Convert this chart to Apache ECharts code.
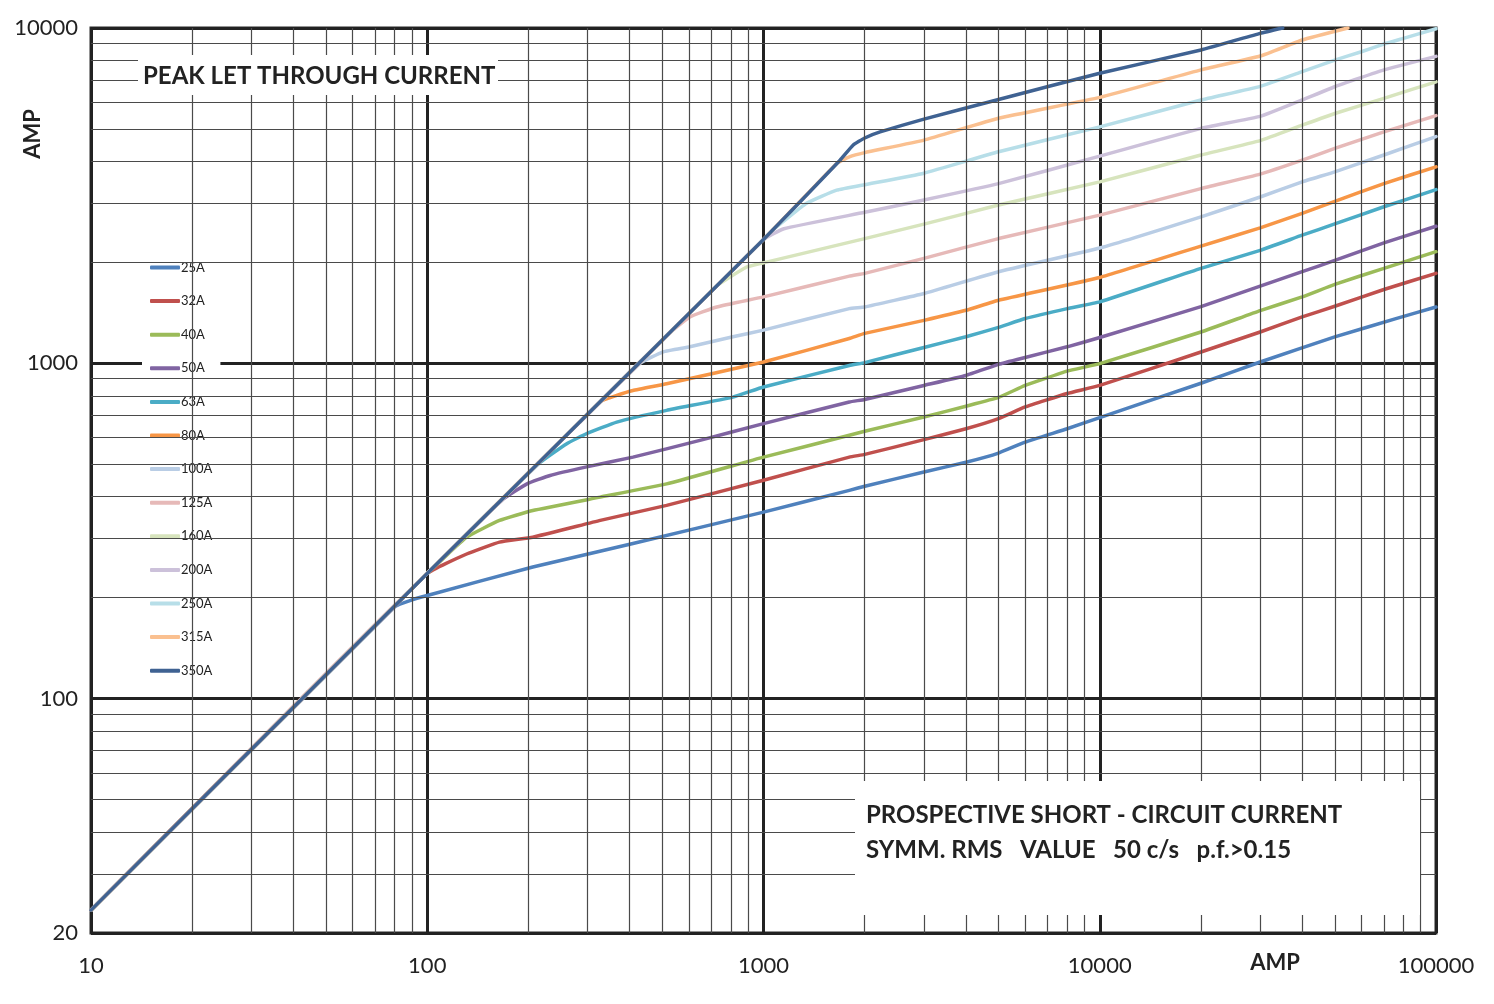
<!DOCTYPE html>
<html>
<head>
<meta charset="utf-8">
<title>Peak let through current</title>
<script src="https://cdn.jsdelivr.net/npm/echarts@6/dist/echarts.min.js"></script>
<style>
  html, body { margin: 0; padding: 0; background: #fff; }
  #chart { width: 1494px; height: 1004px; }
</style>
</head>
<body>
<div id="chart"></div>
<script>
// fuse ratings and their cut-off curves, [prospective A, peak A]
var ratings = ['25A', '32A', '40A', '50A', '63A', '80A', '100A', '125A', '160A', '200A', '250A', '315A', '350A'];

var c25 = [[10,23.4],[80,188],[90,197],[100,203],[206,247],[409,290],[1000,360],[1800,418],[2000,430],[3000,474],[4000,507],[5000,540],[6000,582],[8000,638],[10000,689],[20000,872],[30000,1009],[50000,1199],[76000,1359],[100000,1472]];
var c32 = [[10,23.4],[100,236],[131,270],[164,293],[206,303],[327,340],[515,377],[1000,448],[1800,525],[2000,535],[3000,592],[4000,638],[5000,684],[6000,741],[8000,813],[10000,859],[20000,1081],[30000,1240],[40000,1375],[50000,1480],[70000,1660],[100000,1855]];
var c40 = [[10,23.4],[100,236],[131,303],[164,340],[206,364],[327,399],[515,437],[1000,525],[1800,610],[2000,627],[3000,692],[4000,745],[5000,791],[6000,859],[8000,948],[10000,998],[20000,1240],[30000,1436],[40000,1578],[50000,1720],[70000,1920],[100000,2152]];
var c50 = [[10,23.4],[100,236],[168,393],[198,437],[232,463],[298,491],[409,525],[647,589],[1000,661],[1800,767],[2000,780],[3000,859],[4000,920],[5000,993],[6000,1041],[8000,1120],[10000,1194],[20000,1476],[30000,1700],[40000,1876],[50000,2028],[70000,2287],[100000,2563]];
var c63 = [[10,23.4],[100,236],[216,505],[260,576],[298,617],[366,668],[515,724],[811,793],[1000,850],[1800,985],[2000,1005],[3000,1115],[4000,1200],[5000,1280],[6000,1360],[8000,1456],[10000,1525],[20000,1920],[30000,2172],[40000,2410],[50000,2605],[70000,2930],[100000,3296]];
var c80 = [[10,23.4],[100,236],[327,768],[366,802],[409,830],[515,869],[1000,1009],[1800,1186],[2000,1228],[3000,1343],[4000,1439],[5000,1542],[10000,1803],[20000,2237],[30000,2535],[40000,2800],[50000,3040],[70000,3435],[100000,3855]];
var c100 = [[10,23.4],[100,236],[430,1000],[503,1082],[604,1120],[811,1200],[1000,1256],[1800,1456],[2000,1472],[3000,1615],[5000,1876],[10000,2208],[20000,2735],[30000,3133],[40000,3477],[50000,3725],[70000,4180],[100000,4745]];
var c125 = [[10,23.4],[100,236],[538,1256],[604,1375],[726,1472],[1000,1578],[1800,1820],[2000,1855],[3000,2056],[5000,2355],[10000,2766],[20000,3320],[30000,3665],[40000,4035],[50000,4375],[70000,4900],[100000,5480]];
var c160 = [[10,23.4],[100,236],[720,1690],[891,1937],[1020,2004],[2000,2355],[3000,2600],[5000,2965],[10000,3477],[20000,4180],[30000,4615],[40000,5130],[50000,5560],[70000,6170],[100000,6910]];
var c200 = [[10,23.4],[100,236],[1000,2340],[1150,2520],[2000,2820],[3000,3070],[5000,3435],[10000,4150],[20000,5020],[30000,5450],[40000,6100],[50000,6680],[70000,7500],[100000,8230]];
var c250 = [[10,23.4],[100,236],[1000,2340],[1067,2500],[1343,3000],[1651,3283],[2000,3410],[3000,3690],[5000,4276],[10000,5070],[20000,6100],[30000,6700],[40000,7410],[50000,8020],[60000,8495],[70000,8960],[80000,9315],[100000,9950]];
var c315 = [[10,23.4],[100,236],[1000,2340],[1651,3945],[1800,4130],[2000,4250],[3000,4630],[5000,5380],[10000,6210],[20000,7500],[30000,8250],[40000,9210],[54700,10000]];
var c350 = [[10,23.4],[100,236],[1000,2340],[1689,4035],[1849,4477],[2000,4700],[2222,4900],[3000,5350],[5000,6120],[10000,7330],[20000,8600],[30000,9640],[35000,10000]];

var curves = [c25, c32, c40, c50, c63, c80, c100, c125, c160, c200, c250, c315, c350];
var colors = ['#4F81BD', '#C0504D', '#9BBB59', '#8064A2', '#4BACC6', '#F79646', '#B9CDE5',
              '#E6B9B8', '#D7E4BD', '#CCC1DA', '#B7DEE8', '#FAC090', '#3F6292'];

// minor grid positions (2..9 in every decade)
var xDecades = [10, 100, 1000, 10000];
var yDecades = [10, 100, 1000];
var xMinor = [], yMinor = [];
xDecades.forEach(function (d) { for (var k = 2; k <= 9; k++) xMinor.push(k * d); });
yDecades.forEach(function (d) { for (var k = 2; k <= 9; k++) if (k * d > 20) yMinor.push(k * d); });

var myChart = echarts.init(document.getElementById('chart'));

var series = curves.map(function (c, i) {
    return {
        name: ratings[i],
        type: 'line',
        data: c,
        smooth: 0.12,
        showSymbol: false,
        symbol: 'none',
        lineStyle: { width: 3.5, color: colors[i], join: 'round', cap: 'round' },
        itemStyle: { color: colors[i] },
        z: 3
    };
});

// helper series carrying the minor grid lines
series.push({
    name: 'grid',
    type: 'line',
    data: [[10, 20]],
    symbol: 'none',
    lineStyle: { opacity: 0 },
    silent: true,
    z: 1,
    markLine: {
        silent: true,
        symbol: ['none', 'none'],
        label: { show: false },
        lineStyle: { color: '#4a4a4a', width: 1.2, type: 'solid' },
        data: xMinor.map(function (v) { return { xAxis: v }; })
            .concat(yMinor.map(function (v) { return { yAxis: v }; }))
    }
});

function plain(v) { return String(Math.round(v)); }

var option = {
    animation: false,
    backgroundColor: '#fff',
    color: colors,
    textStyle: { fontFamily: 'Lato' },
    grid: {
        left: 91, right: 58, top: 28, bottom: 71,
        show: true, borderColor: '#2a2a2a', borderWidth: 3, backgroundColor: '#fff'
    },
    legend: {
        data: ratings,
        orient: 'vertical',
        left: 142,
        top: 255,
        padding: [6, 8, 13, 8],
        backgroundColor: '#fff',
        icon: 'roundRect',
        itemWidth: 30,
        itemHeight: 4,
        itemGap: 20.6,
        textStyle: { fontSize: 13, lineHeight: 13, color: '#222', fontFamily: 'Lato', padding: [0, 0, 0, -4] }
    },
    xAxis: {
        type: 'log', logBase: 10, min: 10, max: 100000,
        axisLine: { show: false },
        axisTick: { show: false },
        axisLabel: { fontSize: 22, color: '#222', margin: 22, fontFamily: 'Lato', formatter: plain },
        splitLine: { show: true, lineStyle: { color: '#222', width: 3 } }
    },
    yAxis: {
        type: 'log', logBase: 10, min: 20, max: 10000,
        axisLine: { show: false },
        axisTick: { show: false },
        axisLabel: { fontSize: 22, color: '#222', margin: 13, fontFamily: 'Lato', formatter: plain },
        splitLine: { show: true, lineStyle: { color: '#222', width: 3 } }
    },
    graphic: [
        {
            type: 'rect', z: 10, silent: true,
            shape: { x: 138, y: 55, width: 360, height: 40 },
            style: { fill: '#fff' }
        },
        {
            type: 'text', z: 11, silent: true, x: 143, y: 76,
            style: { text: 'PEAK LET THROUGH CURRENT', font: 'bold 24px Lato', fill: '#222', verticalAlign: 'middle' }
        },
        {
            type: 'rect', z: 10, silent: true,
            shape: { x: 855, y: 781, width: 565, height: 134 },
            style: { fill: '#fff' }
        },
        {
            type: 'text', z: 11, silent: true, x: 866, y: 815,
            style: { text: 'PROSPECTIVE SHORT - CIRCUIT CURRENT', font: 'bold 24px Lato', fill: '#222', verticalAlign: 'middle' }
        },
        {
            type: 'text', z: 11, silent: true, x: 866, y: 850,
            style: { text: 'SYMM. RMS   VALUE   50 c/s   p.f.>0.15', font: 'bold 24px Lato', fill: '#222', verticalAlign: 'middle' }
        },
        {
            type: 'text', z: 11, silent: true, x: 1275, y: 963,
            style: { text: 'AMP', font: 'bold 22px Lato', fill: '#222', align: 'center', verticalAlign: 'middle' }
        },
        {
            type: 'text', z: 11, silent: true, x: 33, y: 134, rotation: Math.PI / 2,
            style: { text: 'AMP', font: 'bold 22px Lato', fill: '#222', align: 'center', verticalAlign: 'middle' }
        }
    ],
    series: series
};
myChart.setOption(option);
</script>
</body>
</html>
